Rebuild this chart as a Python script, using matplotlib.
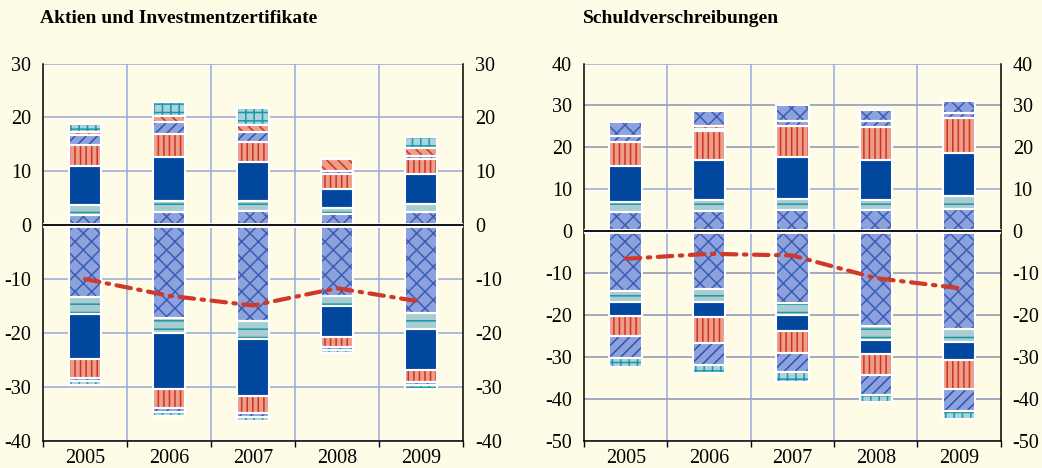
import matplotlib
matplotlib.use("Agg")
import matplotlib.pyplot as plt
import numpy as np

BG = '#FEFCE6'
GRID = '#9AA8E0'
GRID_DARK = '#8A92B2'

years = ['2005', '2006', '2007', '2008', '2009']

# --- Aktien und Investmentzertifikate (left) ---
akt_pos_kreuz = [1.9, 2.4, 2.6, 2.0, 2.5]
akt_pos_waag = [1.9, 2.0, 1.9, 1.2, 1.5]
akt_pos_blau = [7.1, 8.2, 7.3, 3.5, 5.5]
akt_pos_senk = [3.9, 4.3, 3.7, 2.8, 2.8]
akt_pos_diag = [1.9, 2.2, 1.7, 0.6, 0.6]
akt_pos_rdiag = [0.6, 1.1, 1.3, 2.2, 1.4]
akt_pos_gitter = [1.5, 2.6, 3.3, 0.0, 2.0]

akt_neg_kreuz = [-13.3, -17.3, -17.8, -13.2, -16.3]
akt_neg_waag = [-3.1, -2.8, -3.3, -1.8, -3.0]
akt_neg_blau = [-8.5, -10.3, -10.6, -5.7, -7.6]
akt_neg_senk = [-3.4, -3.6, -3.2, -1.9, -2.2]
akt_neg_diag = [-0.7, -0.7, -0.7, -0.5, -0.5]
akt_neg_gitter = [-0.6, -0.7, -0.7, -0.7, -0.8]

akt_saldo = [-10.0, -13.1, -14.9, -11.7, -14.2]

# --- Schuldverschreibungen (right) ---
sch_pos_kreuz = [4.6, 4.9, 5.1, 5.1, 5.2]
sch_pos_waag = [2.3, 2.6, 2.6, 2.4, 3.1]
sch_pos_blau = [8.6, 9.4, 9.9, 9.4, 10.4]
sch_pos_senk = [5.8, 6.9, 7.4, 7.9, 8.4]
sch_pos_diag = [1.5, 0.6, 1.3, 1.4, 1.2]
sch_pos_rdiag = [0.0, 0.6, 0.0, 0.0, 0.0]
sch_pos_kreuz2 = [3.2, 3.7, 3.9, 2.8, 2.8]

sch_neg_kreuz = [-14.3, -13.8, -17.1, -22.7, -23.3]
sch_neg_waag = [-2.7, -3.0, -2.9, -3.2, -3.1]
sch_neg_blau = [-3.3, -3.7, -3.9, -3.3, -4.4]
sch_neg_senk = [-4.7, -6.3, -5.2, -5.2, -6.9]
sch_neg_diag = [-5.3, -5.1, -4.5, -4.7, -5.3]
sch_neg_gitter = [-2.2, -1.9, -2.3, -1.6, -1.7]

sch_saldo = [-6.6, -5.4, -5.8, -11.2, -13.6]

# styles: (face, hatch, hatch colour)
KREUZ = ('#8DA2DC', 'xx', '#3A5DB5')
WAAG = ('#A9CCD3', '--', '#1C97A0')
BLAU = ('#00479D', None, '#00479D')
SENK = ('#EE9E88', '|||', '#CC3326')
DIAG = ('#8DA2DC', '///', '#2E52B0')
RDIAG = ('#EE9E88', '\\\\\\', '#CC3326')
GITTER = ('#A9D4DC', '++', '#1C97A8')

plt.rcParams['font.family'] = ['Liberation Serif', 'DejaVu Serif']
plt.rcParams['hatch.linewidth'] = 1.1


def stack(ax, x, series, width=0.39):
    bottom = np.zeros(len(x))
    for vals, style in series:
        vals = np.array(vals, dtype=float)
        face, hatch, hcol = style
        ax.bar(x, vals, width, bottom=bottom, color=face, hatch=hatch,
               edgecolor=hcol, linewidth=0, zorder=2)
        ax.bar(x, vals, width, bottom=bottom, fill=False,
               edgecolor='white', linewidth=1.5, zorder=3)
        bottom += vals


def setup(ax, lo, hi, dark_lines=()):
    ax.set_facecolor(BG)
    ax.set_xlim(-0.5, 4.5)
    ax.set_ylim(lo, hi)
    ticks = np.arange(lo, hi + 1, 10)
    ax.set_yticks(ticks)
    ax.set_yticklabels([str(int(t)) for t in ticks])
    for t in ticks:
        if t == 0:
            continue
        c = GRID_DARK if t in dark_lines else GRID
        ax.axhline(t, color=c, lw=1.1, zorder=1)
    for b in np.arange(0.5, 4.5, 1):
        ax.axvline(b, color=GRID, lw=1.1, zorder=1)
    ax.axhline(0, color='white', lw=3.5, zorder=4)
    ax.axhline(0, color='black', lw=1.3, zorder=5)
    ax.set_xticks(range(5))
    ax.set_xticklabels(years)
    ax.set_xticks(np.arange(-0.5, 5, 1), minor=True)
    ax.tick_params(axis='x', which='major', length=0, labelsize=14.5, pad=6)
    ax.tick_params(axis='x', which='minor', length=4, width=1,
                   direction='out', color='black')
    ax.tick_params(axis='y', which='both', left=False, right=False,
                   labelleft=True, labelright=True, labelsize=14.5, pad=5)
    ax.spines['top'].set_visible(False)
    for s in ['left', 'right', 'bottom']:
        ax.spines[s].set_color('black')
        ax.spines[s].set_linewidth(1.1)


fig = plt.figure(figsize=(10.42, 4.68), dpi=100, facecolor=BG)
ax1 = fig.add_axes([0.0413, 0.0583, 0.403, 0.806])
ax2 = fig.add_axes([0.5605, 0.0583, 0.400, 0.806])

x = np.arange(len(years))

setup(ax1, -40, 30)
stack(ax1, x, [(akt_pos_kreuz, KREUZ), (akt_pos_waag, WAAG), (akt_pos_blau, BLAU),
               (akt_pos_senk, SENK), (akt_pos_diag, DIAG), (akt_pos_rdiag, RDIAG),
               (akt_pos_gitter, GITTER)])
stack(ax1, x, [(akt_neg_kreuz, KREUZ), (akt_neg_waag, WAAG), (akt_neg_blau, BLAU),
               (akt_neg_senk, SENK), (akt_neg_diag, DIAG), (akt_neg_gitter, GITTER)])
ax1.plot(x, akt_saldo, color='#D0382A', lw=3, linestyle=(0, (3.5, 1.8, 0.6, 1.8)),
         dash_capstyle='round', zorder=6)

setup(ax2, -50, 40, dark_lines=(30, 20, -10, -20, -30, -40))
stack(ax2, x, [(sch_pos_kreuz, KREUZ), (sch_pos_waag, WAAG), (sch_pos_blau, BLAU),
               (sch_pos_senk, SENK), (sch_pos_diag, DIAG), (sch_pos_rdiag, RDIAG),
               (sch_pos_kreuz2, KREUZ)])
stack(ax2, x, [(sch_neg_kreuz, KREUZ), (sch_neg_waag, WAAG), (sch_neg_blau, BLAU),
               (sch_neg_senk, SENK), (sch_neg_diag, DIAG), (sch_neg_gitter, GITTER)])
ax2.plot(x, sch_saldo, color='#D0382A', lw=3, linestyle=(0, (3.5, 1.8, 0.6, 1.8)),
         dash_capstyle='round', zorder=6)

fig.text(0.038, 0.961, 'Aktien und Investmentzertifikate', fontsize=14,
         fontweight='bold', va='center', ha='left')
fig.text(0.559, 0.961, 'Schuldverschreibungen', fontsize=14,
         fontweight='bold', va='center', ha='left')

fig.savefig('out.png', dpi=100, facecolor=BG)
